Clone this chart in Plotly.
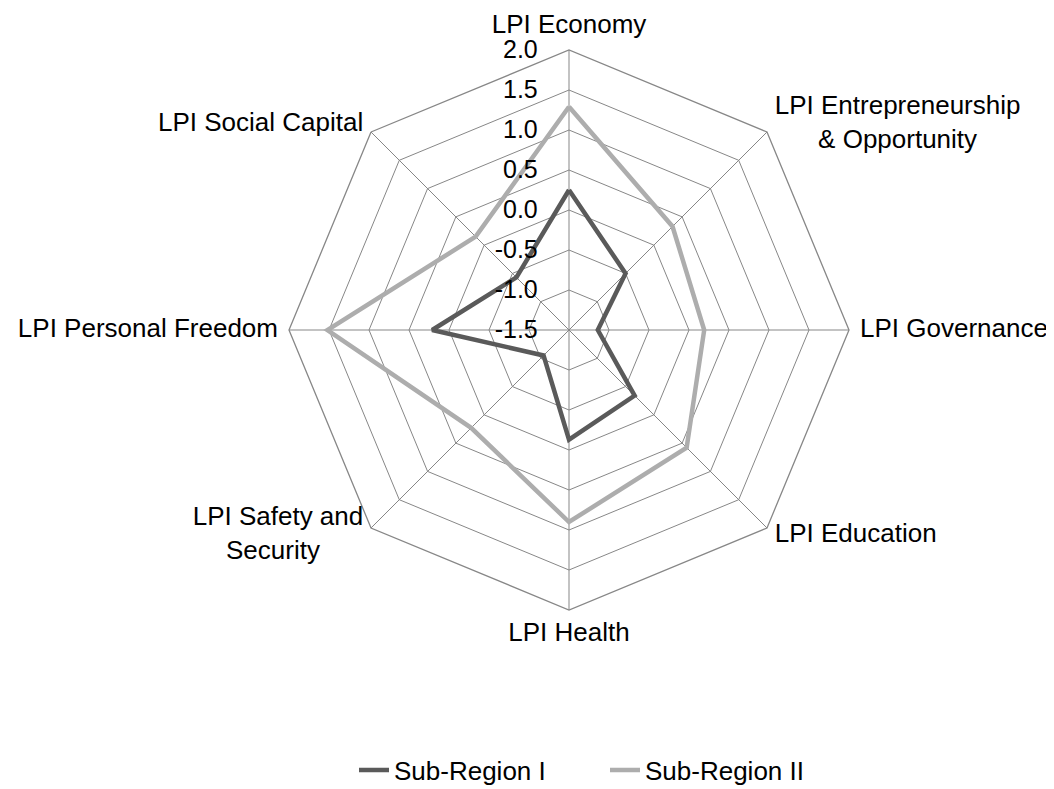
import plotly.graph_objects as go

NB = "\u00a0"
categories = [
    "LPI Economy",
    "LPI Entrepreneurship & Opportunity",
    "LPI Governance",
    "LPI Education",
    "LPI Health",
    "LPI Safety and Security",
    "LPI Personal Freedom",
    "LPI Social Capital",
]
category_labels = [
    "LPI Economy",
    "LPI Entrepreneurship<br>" + NB * 6 + "& Opportunity",
    "LPI Governance",
    "LPI Education",
    "LPI Health",
    "LPI Safety and<br>Security" + NB * 6,
    "LPI Personal Freedom",
    "LPI Social Capital",
]
label_positions = ["top center", "middle right", "middle right", "middle right",
                   "bottom center", "middle left", "middle left", "middle left"]
sub_region_1 = [0.25, -0.50, -1.14, -0.34, -0.13, -1.05, 0.21, -0.57]
sub_region_2 = [1.29, 0.33, 0.19, 0.58, 0.90, 0.23, 1.52, 0.15]
series_names = ["Sub-Region I", "Sub-Region II"]
series_colors = ["#5A5A5A", "#ADADAD"]
radial_ticks = [-1.5, -1.0, -0.5, 0.0, 0.5, 1.0, 1.5, 2.0]
r_min, r_max = -1.5, 2.0

W, H = 1054, 789
OFF = 8  # page body margin
cx, cy, R = 569 - OFF, 330 - OFF, 280
R_LABEL = R + 11  # ring on which the category labels sit


def dom(radius):
    return dict(x=[(cx - radius) / W, (cx + radius) / W],
                y=[1 - (cy + radius) / H, 1 - (cy - radius) / H])


fig = go.Figure()
for name, vals, col in zip(series_names, [sub_region_1, sub_region_2], series_colors):
    fig.add_trace(go.Scatterpolar(
        r=vals + vals[:1],
        theta=categories + categories[:1],
        mode="lines",
        name=name,
        line=dict(color=col, width=4.5),
    ))

# category labels on an invisible, slightly larger polar frame
fig.add_trace(go.Scatterpolar(
    r=[r_max] * len(categories),
    theta=categories,
    mode="text",
    text=category_labels,
    textposition=label_positions,
    textfont=dict(size=26, color="black"),
    cliponaxis=False,
    showlegend=False,
    hoverinfo="skip",
    subplot="polar2",
))

font_family = "Liberation Sans, Arial, sans-serif"
fig.update_layout(
    width=W, height=H,
    margin=dict(l=0, r=0, t=0, b=0),
    paper_bgcolor="white",
    plot_bgcolor="white",
    font=dict(family=font_family, size=26, color="black"),
    showlegend=True,
    legend=dict(
        orientation="h", x=(569 - OFF + 36) / W, xanchor="center",
        y=1 - (770 - OFF) / H, yanchor="middle",
        font=dict(size=26), entrywidth=206,
    ),
    polar=dict(
        domain=dom(R),
        bgcolor="white",
        gridshape="linear",
        angularaxis=dict(
            direction="clockwise", rotation=90,
            showline=True, linecolor="#878787", linewidth=1.3,
            gridcolor="#878787", gridwidth=1.3,
            ticks="", showticklabels=False,
        ),
        radialaxis=dict(
            range=[r_min, r_max], tickvals=radial_ticks,
            ticktext=[f"{v:.1f}" for v in radial_ticks],
            angle=90, tickangle=90, side="counterclockwise",
            showline=False, ticks="outside", ticklen=22, tickcolor="rgba(0,0,0,0)",
            gridcolor="#878787", gridwidth=1.3,
            tickfont=dict(size=25),
        ),
    ),
    polar2=dict(
        domain=dom(R_LABEL),
        bgcolor="rgba(0,0,0,0)",
        gridshape="linear",
        angularaxis=dict(direction="clockwise", rotation=90, visible=False,
                         categoryorder="array", categoryarray=categories),
        radialaxis=dict(range=[r_min, r_max], visible=False),
    ),
)

fig.write_html("out.html")
